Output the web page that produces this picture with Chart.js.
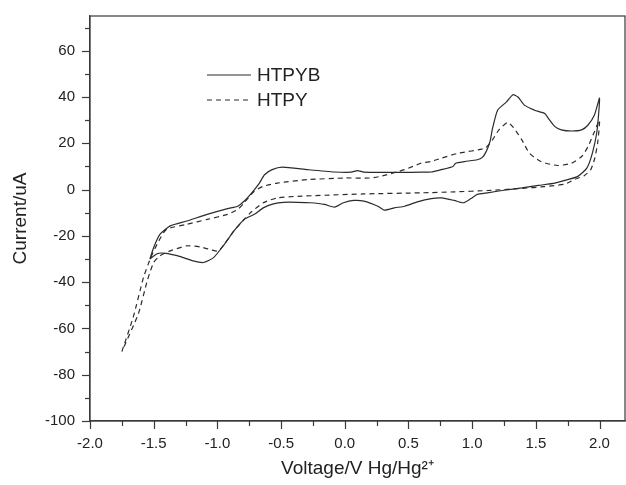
<!DOCTYPE html>
<html>
<head>
<meta charset="utf-8">
<script src="https://cdn.jsdelivr.net/npm/chart.js@4"></script>
<style>
  body { margin: 0; background: #fff; }
</style>
</head>
<body>
<canvas id="cv" width="626" height="485"></canvas>
<script>
// HTPYB (linea continua) - ida (rama superior) y vuelta (rama inferior)
const htpybV = [
  -1.53, -1.50, -1.45, -1.37, -1.24, -1.08, -0.92, -0.84, -0.78, -0.74,
  -0.67, -0.63, -0.57, -0.49, -0.29, -0.08, 0.05, 0.10, 0.15, 0.30,
  0.45, 0.60, 0.68, 0.75, 0.85, 0.87, 0.94, 1.04, 1.08, 1.11,
  1.14, 1.16, 1.20, 1.27, 1.32, 1.36, 1.41, 1.49, 1.53, 1.57,
  1.60, 1.65, 1.70, 1.78, 1.86, 1.91, 1.96, 2.00,
  1.98, 1.94, 1.90, 1.83, 1.75, 1.65, 1.52, 1.39, 1.25, 1.12,
  1.04, 0.99, 0.93, 0.86, 0.76, 0.68, 0.57, 0.47, 0.39, 0.31,
  0.26, 0.15, 0.07, -0.01, -0.08, -0.16, -0.27, -0.37, -0.48, -0.56,
  -0.64, -0.71, -0.79, -0.87, -0.95, -1.03, -1.11, -1.19, -1.29, -1.40,
  -1.47, -1.53,
];
const htpybI = [
  -30, -25, -19.3, -15.7, -13.6, -10.7, -8.2, -7.2, -4.5, -2.1,
  2.8, 6.4, 8.6, 9.7, 8.6, 7.6, 7.5, 8.2, 7.5, 7.4,
  7.4, 7.5, 7.6, 8.5, 10, 11.4, 12.1, 12.9, 13.9, 16.4,
  20.7, 26.4, 34.3, 37.9, 41, 40, 36.5, 34.3, 33.6, 32.9,
  30.7, 27.2, 25.8, 25.3, 25.8, 27.9, 32.2, 39.5,
  25.3, 15, 9.3, 5.7, 4.3, 2.8, 1.8, 0.7, -0.3, -1.4,
  -2.1, -3.9, -5.7, -4.7, -3.6, -3.9, -5.3, -7.2, -7.9, -8.9,
  -7.2, -5, -4.7, -5.7, -7.6, -6.4, -5.7, -5.5, -5.5, -6.2,
  -7.9, -10.7, -12.9, -17.9, -24, -29.4, -31.5, -30.8, -29, -27.6,
  -27.6, -30,
];

// HTPY (linea discontinua)
const htpyV = [
  -1.75, -1.66, -1.58, -1.52, -1.46, -1.40, -1.24, -1.08, -0.92, -0.84,
  -0.79, -0.71, -0.64, -0.53, -0.29, 0.00, 0.20, 0.28, 0.47, 0.60,
  0.68, 0.76, 0.89, 1.10, 1.16, 1.21, 1.28, 1.33, 1.39, 1.45,
  1.54, 1.67, 1.78, 1.86, 1.91, 1.96, 2.00,
  1.985, 1.96, 1.93, 1.88, 1.80, 1.73, 1.57, 1.39, 1.12, 0.86,
  0.60, 0.15, -0.37, -0.53, -0.64, -0.74, -0.79, -0.87, -0.99, -1.05,
  -1.13, -1.24, -1.37, -1.45, -1.50, -1.55, -1.62, -1.75,
];
const htpyI = [
  -70, -55, -38, -29, -22.2, -17.2, -15, -12.9, -10.7, -8.6,
  -5.7, -0.7, 1.4, 2.8, 4.3, 5, 5, 5.7, 8.6, 11.4,
  12.2, 13.6, 15.7, 17.9, 21.5, 25.8, 29, 26.4, 21.5, 15.7,
  12.1, 10.4, 11.4, 14.3, 18.6, 25, 30,
  20, 13, 8.5, 6, 4.3, 2.4, 1.3, 0.5, -0.4, -1,
  -1.4, -1.9, -2.9, -3.6, -5.7, -10, -12.9, -17.9, -26.5, -26,
  -24.8, -24.3, -26.5, -28.6, -31.5, -39.3, -53.6, -70,
];

const etiquetas = ["HTPYB", "HTPY"];

const toPts = (vs, is) => vs.map((v, i) => ({ x: v, y: is[i] }));

const fuente = "'Liberation Sans', Arial, sans-serif";
const colorLinea = "#2b2b2b";
const colorEje = "#3a3a3a";

const isMajorX = (v) => Math.abs(v * 2 - Math.round(v * 2)) < 1e-6;
const isMajorY = (v) => Math.abs(v % 20) < 1e-6;

// Marco, marcas de ejes y leyenda dibujados a mano
const decoracion = {
  id: "decoracion",
  afterDraw(chart) {
    const { ctx, chartArea: a, scales } = chart;
    ctx.save();
    ctx.strokeStyle = colorEje;
    ctx.lineWidth = 1.2;
    ctx.strokeRect(a.left, a.top, a.right - a.left, a.bottom - a.top);

    // marcas hacia afuera
    scales.x.ticks.forEach((t) => {
      const px = Math.round(scales.x.getPixelForValue(t.value)) + 0.5;
      const len = isMajorX(t.value) ? 8 : 5;
      ctx.beginPath();
      ctx.moveTo(px, a.bottom);
      ctx.lineTo(px, a.bottom + len);
      ctx.stroke();
    });
    scales.y.ticks.forEach((t) => {
      const py = Math.round(scales.y.getPixelForValue(t.value)) + 0.5;
      const len = isMajorY(t.value) ? 8 : 5;
      ctx.beginPath();
      ctx.moveTo(a.left - len, py);
      ctx.lineTo(a.left, py);
      ctx.stroke();
    });

    // leyenda
    const lx = a.left + 117;
    const ly = a.top + 59;
    chart.data.datasets.forEach((ds, i) => {
      const y = ly + i * 25;
      ctx.strokeStyle = ds.borderColor;
      ctx.lineWidth = ds.borderWidth;
      ctx.setLineDash(ds.borderDash || []);
      ctx.beginPath();
      ctx.moveTo(lx, y);
      ctx.lineTo(lx + 44, y);
      ctx.stroke();
      ctx.setLineDash([]);
      ctx.fillStyle = "#222";
      ctx.font = "19px " + fuente;
      ctx.textBaseline = "middle";
      ctx.fillText(ds.label, lx + 50, y + 1);
    });
    ctx.restore();
  },
};

new Chart(document.getElementById("cv"), {
  type: "scatter",
  data: {
    datasets: [
      {
        label: etiquetas[0],
        data: toPts(htpybV, htpybI),
        showLine: true,
        borderColor: colorLinea,
        borderWidth: 1.2,
        pointRadius: 0,
        tension: 0.2,
      },
      {
        label: etiquetas[1],
        data: toPts(htpyV, htpyI),
        showLine: true,
        borderColor: colorLinea,
        borderWidth: 1.2,
        borderDash: [5, 4],
        pointRadius: 0,
        tension: 0.2,
      },
    ],
  },
  options: {
    responsive: false,
    animation: false,
    layout: { padding: { top: 7, right: 1, left: 0, bottom: 0 } },
    plugins: {
      legend: { display: false },
      tooltip: { enabled: false },
    },
    scales: {
      x: {
        type: "linear",
        min: -2,
        max: 2.2,
        grid: { display: false },
        border: { display: true, color: colorEje, width: 1.2 },
        afterFit: (s) => { s.height = 64; },
        ticks: {
          stepSize: 0.25,
          includeBounds: false,
          autoSkip: false,
          maxRotation: 0,
          padding: 6,
          color: "#222",
          font: { family: fuente, size: 15 },
          callback: (v) => (isMajorX(v) ? Number(v).toFixed(1) : ""),
        },
        title: {
          display: true,
          text: "Voltage/V Hg/Hg²⁺",
          color: "#222",
          font: { family: fuente, size: 19 },
          padding: { top: 0, bottom: 5 },
        },
      },
      y: {
        type: "linear",
        min: -100,
        max: 75,
        grid: { display: false },
        border: { display: true, color: colorEje, width: 1.2 },
        afterFit: (s) => { s.width = 90; },
        ticks: {
          stepSize: 10,
          includeBounds: false,
          autoSkip: false,
          padding: 7,
          color: "#222",
          font: { family: fuente, size: 15 },
          callback: (v) => (isMajorY(v) ? String(v) : ""),
        },
        title: {
          display: true,
          text: "Current/uA",
          color: "#222",
          font: { family: fuente, size: 19 },
          padding: { top: 9, bottom: 0 },
        },
      },
    },
  },
  plugins: [decoracion],
});
</script>
</body>
</html>
